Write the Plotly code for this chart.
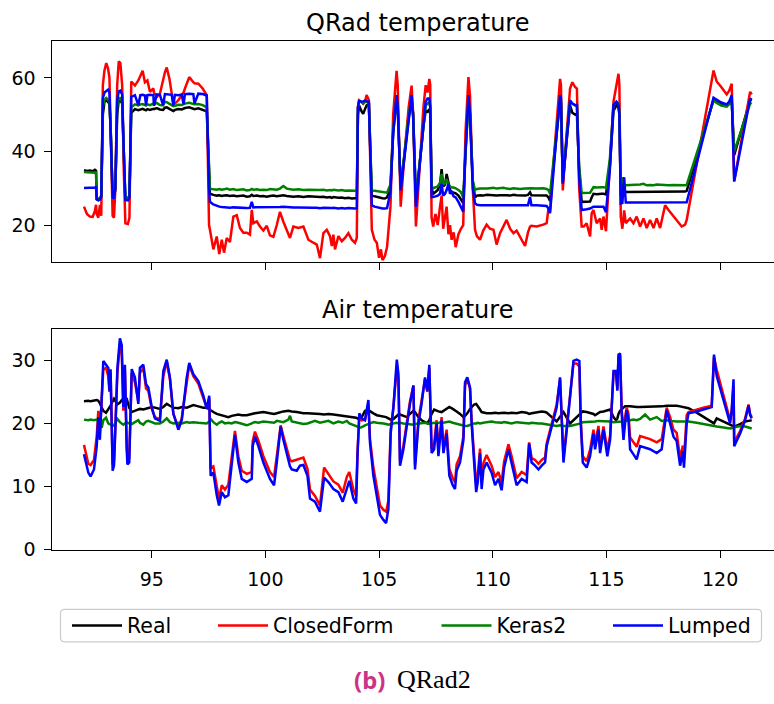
import plotly.graph_objects as go

# ---------------- data: QRad temperature (top panel) ----------------
t_qrad = [92.02, 92.15, 92.28, 92.40, 92.50, 92.55, 92.58, 92.65, 92.72, 92.78,
          92.85, 92.92, 93.00, 93.08, 93.14, 93.20, 93.28, 93.34, 93.40, 93.48,
          93.55, 93.62, 93.70, 93.77, 93.84, 93.95, 94.02, 94.10, 94.26, 94.41,
          94.50, 94.60, 94.70, 94.75, 94.81, 94.92, 95.07, 95.10, 95.22, 95.36,
          95.50, 95.58, 95.66, 95.78, 95.88, 95.95, 96.02, 96.17, 96.32, 96.40,
          96.46, 96.65, 96.83, 96.88, 97.05, 97.24, 97.42, 97.52, 97.56, 97.71,
          97.86, 97.97, 98.08, 98.18, 98.30, 98.44, 98.59, 98.74, 98.88, 99.03,
          99.18, 99.32, 99.40, 99.47, 99.62, 99.76, 99.91, 100.06, 100.20, 100.35,
          100.50, 100.64, 100.79, 100.94, 101.08, 101.23, 101.45, 101.67, 101.89, 102.11,
          102.26, 102.40, 102.55, 102.70, 102.84, 102.92, 102.99, 103.06, 103.21, 103.36,
          103.50, 103.65, 103.80, 103.94, 104.02, 104.07, 104.12, 104.22, 104.30, 104.38,
          104.45, 104.55, 104.62, 104.68, 104.80, 104.90, 105.00, 105.08, 105.15, 105.25,
          105.35, 105.50, 105.62, 105.77, 105.82, 105.95, 106.10, 106.30, 106.43, 106.50,
          106.62, 106.75, 106.95, 107.05, 107.13, 107.21, 107.25, 107.31, 107.38, 107.48,
          107.58, 107.68, 107.75, 107.82, 107.90, 107.97, 108.05, 108.12, 108.19, 108.28,
          108.37, 108.49, 108.60, 108.70, 108.80, 108.93, 109.00, 109.12, 109.22, 109.30,
          109.44, 109.58, 109.73, 109.88, 110.03, 110.17, 110.32, 110.47, 110.61, 110.76,
          110.91, 111.05, 111.20, 111.42, 111.55, 111.64, 111.70, 111.93, 112.22, 112.37,
          112.45, 112.52, 112.75, 112.96, 113.00, 113.08, 113.25, 113.40, 113.50, 113.62,
          113.70, 113.80, 113.91, 114.00, 114.13, 114.28, 114.35, 114.43, 114.57, 114.72,
          114.79, 114.87, 114.98, 115.15, 115.31, 115.44, 115.53, 115.57, 115.63, 115.70,
          115.78, 115.85, 116.04, 116.19, 116.33, 116.48, 116.63, 116.77, 116.92, 117.07,
          117.21, 117.36, 117.58, 117.73, 117.95, 118.17, 118.31, 118.46, 118.53, 119.71,
          119.85, 120.05, 120.29, 120.40, 120.51, 120.62, 121.32, 121.39]

qrad_real = [34.9, 34.7, 34.8, 34.6, 35.0, 34.8, 27.0, 26.8, 27.0, 28.0,
             50.0, 53.5, 54.0, 53.5, 53.0, 45.0, 27.5, 27.2, 30.0, 50.0,
             54.0, 54.0, 53.0, 40.0, 27.0, 27.0, 28.0, 50.5, 51.5, 51.2,
             51.4, 51.6, 51.3, 51.2, 51.5, 51.3, 51.6, 51.5, 51.8, 51.4,
             51.3, 51.9, 52.0, 51.6, 51.2, 51.0, 51.3, 51.5, 51.4, 51.6,
             51.8, 52.0, 51.6, 51.5, 51.7, 51.3, 50.9, 35.0, 28.5, 28.2,
             28.0, 28.1, 27.9, 28.0, 28.1, 27.9, 28.0, 27.8, 27.9, 28.0,
             27.7, 27.8, 28.2, 27.9, 28.0, 27.8, 27.9, 27.7, 27.9, 28.0,
             27.8, 27.9, 28.1, 27.9, 27.8, 27.7, 27.8, 27.6, 27.8, 27.7,
             27.5, 27.6, 27.7, 27.5, 27.6, 27.4, 27.6, 27.5, 27.4, 27.5,
             27.3, 27.4, 27.2, 27.3, 27.3, 50.0, 52.5, 51.0, 50.2, 51.5,
             52.5, 52.8, 40.0, 28.0, 27.8, 27.6, 27.5, 27.4, 27.3, 27.2,
             27.5, 30.0, 45.0, 54.5, 52.0, 30.0, 38.0, 49.0, 54.0, 50.0,
             26.5, 35.0, 47.0, 51.0, 50.8, 51.5, 50.0, 30.0, 28.5, 29.0,
             29.5, 31.0, 35.2, 30.5, 31.0, 33.9, 31.0, 29.5, 29.0, 28.8,
             28.6, 28.0, 27.0, 26.0, 40.0, 53.5, 50.0, 32.0, 27.5, 28.0,
             28.1, 28.0, 28.2, 28.1, 28.2, 28.0, 28.1, 28.2, 28.1, 28.0,
             28.2, 28.1, 28.0, 28.0, 28.2, 28.9, 28.1, 28.1, 28.0, 28.0,
             27.5, 26.5, 41.0, 54.0, 53.0, 31.5, 43.0, 52.5, 50.5, 50.0,
             50.2, 35.0, 26.3, 26.3, 26.2, 26.4, 27.5, 28.5, 28.4, 28.6,
             28.5, 28.5, 28.3, 36.0, 51.0, 52.5, 52.0, 50.0, 28.0, 32.5,
             29.5, 29.0, 29.0, 29.1, 29.0, 29.1, 29.2, 29.0, 29.1, 29.0,
             29.2, 29.1, 29.2, 29.1, 29.2, 29.1, 29.0, 29.1, 29.3, 54.0,
             53.5, 53.0, 52.5, 53.5, 54.0, 39.0, 54.0, 53.8]

qrad_closedform = [25.0, 23.0, 22.3, 22.2, 23.8, 25.5, 23.0, 22.0, 25.5, 22.5,
                   58.0, 62.0, 64.0, 62.5, 60.0, 45.0, 22.5, 22.0, 30.0, 58.0,
                   64.5, 64.0, 58.0, 35.0, 20.5, 20.3, 22.0, 59.0, 57.9, 59.3,
                   60.5, 61.9, 58.8, 59.0, 59.3, 56.2, 57.1, 56.0, 54.8, 55.7,
                   59.7, 61.5, 62.8, 59.7, 55.7, 53.2, 53.0, 53.9, 55.3, 56.0,
                   57.1, 60.2, 58.8, 58.5, 58.4, 57.1, 55.3, 20.0, 18.7, 13.4,
                   16.9, 12.1, 16.0, 12.5, 16.5, 15.4, 22.3, 22.7, 19.2, 17.9,
                   17.9, 17.4, 24.1, 20.5, 21.0, 19.6, 18.5, 19.8, 17.2, 16.8,
                   20.0, 23.6, 20.9, 18.7, 16.5, 19.6, 19.2, 19.6, 16.0, 15.2,
                   14.7, 11.0, 17.8, 18.7, 17.0, 14.3, 17.4, 13.4, 17.0, 15.6,
                   16.5, 17.8, 16.0, 15.2, 16.5, 52.0, 53.9, 53.5, 53.0, 53.5,
                   55.3, 54.0, 30.0, 18.7, 16.0, 15.2, 11.1, 13.4, 10.5, 11.5,
                   14.0, 25.0, 50.0, 61.9, 58.0, 25.0, 38.0, 52.0, 57.9, 50.0,
                   19.6, 33.0, 52.0, 58.0, 56.0, 59.7, 58.0, 22.0, 19.6, 23.0,
                   20.0, 25.0, 28.0, 19.0, 22.0, 25.0, 17.5, 20.0, 16.0, 18.0,
                   14.0, 17.5, 19.0, 20.0, 45.0, 60.2, 55.0, 30.0, 18.7, 17.0,
                   16.0, 18.5, 20.1, 19.0, 18.7, 14.7, 17.8, 19.5, 21.4, 19.0,
                   17.8, 18.5, 16.9, 14.3, 18.0, 19.6, 19.8, 19.6, 20.1, 20.5,
                   24.5, 24.0, 43.0, 59.7, 58.0, 29.4, 45.0, 57.1, 58.8, 57.5,
                   57.1, 30.0, 19.6, 19.6, 20.5, 16.9, 23.2, 24.1, 20.5, 21.8,
                   18.7, 22.3, 18.3, 38.0, 53.5, 58.0, 61.1, 58.0, 22.3, 19.0,
                   24.0, 20.5, 21.8, 20.5, 22.3, 19.6, 21.8, 19.2, 21.4, 19.2,
                   21.8, 19.2, 25.4, 24.1, 22.3, 20.5, 19.6, 20.1, 21.4, 62.0,
                   59.0, 57.5, 55.5, 56.5, 58.4, 32.0, 56.2, 55.5]

qrad_keras2 = [34.4, 34.3, 34.4, 34.3, 34.2, 34.3, 27.5, 27.2, 27.3, 28.0,
               52.0, 54.0, 54.5, 54.0, 53.5, 45.0, 28.0, 27.5, 30.0, 52.0,
               54.5, 54.5, 53.5, 40.0, 27.5, 27.4, 28.0, 52.0, 52.8, 52.5,
               52.8, 52.9, 52.6, 52.5, 52.8, 52.6, 53.0, 52.8, 53.2, 52.6,
               52.5, 53.5, 53.4, 53.0, 52.5, 52.3, 52.4, 52.7, 52.6, 52.8,
               53.0, 53.2, 52.9, 52.8, 52.9, 52.6, 52.0, 34.0, 29.9, 29.7,
               29.6, 29.8, 29.6, 29.7, 29.9, 29.6, 29.8, 29.5, 29.6, 29.7,
               29.4, 29.5, 29.8, 29.6, 29.7, 29.5, 29.6, 29.5, 29.8, 29.7,
               29.6, 29.9, 30.6, 29.9, 29.7, 29.6, 29.7, 29.5, 29.6, 29.5,
               29.4, 29.5, 29.6, 29.4, 29.5, 29.4, 29.6, 29.5, 29.4, 29.5,
               29.3, 29.4, 29.3, 29.3, 29.5, 52.0, 53.8, 53.5, 53.0, 53.6,
               53.5, 53.0, 40.0, 29.4, 29.3, 29.2, 29.0, 29.0, 28.9, 28.8,
               28.8, 31.0, 46.0, 54.5, 52.0, 30.0, 39.0, 50.0, 54.2, 50.0,
               27.0, 35.0, 48.0, 52.5, 53.0, 53.5, 52.0, 30.5, 30.0, 30.3,
               30.5, 31.5, 33.9, 31.0, 31.5, 32.5, 31.0, 30.5, 30.2, 30.2,
               30.0, 29.5, 29.0, 27.5, 40.0, 54.0, 50.0, 32.0, 29.5, 29.8,
               29.9, 30.0, 29.9, 30.0, 30.1, 29.9, 30.0, 30.1, 29.9, 29.8,
               30.0, 29.9, 29.8, 29.9, 30.0, 30.1, 30.0, 29.9, 30.0, 29.8,
               29.5, 28.5, 42.0, 54.5, 53.5, 32.0, 44.0, 53.5, 53.0, 52.5,
               52.6, 36.0, 28.7, 28.7, 28.6, 28.8, 29.5, 30.3, 30.2, 30.4,
               30.3, 30.3, 30.1, 38.0, 52.5, 53.5, 53.0, 51.0, 30.0, 33.0,
               31.0, 30.8, 30.8, 30.9, 30.8, 31.0, 31.2, 30.8, 30.9, 30.8,
               31.0, 30.9, 30.9, 30.8, 30.9, 30.8, 30.7, 30.8, 30.9, 53.8,
               53.2, 52.5, 52.2, 53.0, 53.5, 40.0, 53.0, 53.2]

qrad_lumped = [30.1, 30.1, 30.1, 30.0, 30.2, 30.3, 27.0, 26.7, 26.9, 27.5,
               54.5, 56.0, 56.5, 56.8, 56.0, 44.0, 27.5, 27.2, 30.0, 54.0,
               56.3, 56.5, 55.5, 40.0, 26.8, 26.7, 27.5, 54.8, 55.3, 52.6,
               55.3, 55.4, 55.2, 52.6, 55.3, 55.4, 55.3, 52.4, 55.5, 55.4,
               52.6, 55.6, 55.6, 55.5, 55.4, 52.5, 55.4, 55.3, 55.5, 52.8,
               55.6, 55.7, 55.6, 53.0, 55.7, 55.6, 55.2, 30.0, 26.3, 25.6,
               25.2, 25.0, 24.9, 24.8, 24.8, 24.7, 24.8, 24.7, 24.8, 24.7,
               24.6, 24.7, 26.3, 24.8, 24.8, 24.7, 24.8, 24.7, 24.8, 24.9,
               24.8, 24.9, 25.0, 24.9, 24.8, 24.8, 24.8, 24.7, 24.8, 24.7,
               24.7, 24.6, 24.7, 24.6, 24.7, 24.6, 24.7, 24.6, 24.5, 24.6,
               24.5, 24.6, 24.5, 24.5, 24.6, 52.0, 53.7, 53.5, 53.6, 53.8,
               53.7, 53.5, 38.0, 25.4, 25.0, 24.8, 24.6, 24.5, 24.5, 24.5,
               24.6, 29.0, 45.0, 55.3, 52.0, 29.4, 38.0, 49.5, 55.3, 49.0,
               25.0, 34.0, 48.0, 53.5, 54.4, 54.4, 52.0, 27.6, 27.6, 27.8,
               28.0, 28.5, 31.2, 28.0, 28.5, 29.5, 31.2, 28.5, 29.0, 27.8,
               27.5, 26.3, 25.0, 23.6, 40.0, 55.3, 50.0, 30.0, 25.9, 25.5,
               25.4, 25.4, 25.5, 25.4, 25.4, 25.3, 25.4, 25.4, 25.4, 25.3,
               25.4, 25.4, 25.3, 25.3, 25.4, 27.6, 25.4, 25.4, 25.3, 25.2,
               24.5, 23.2, 40.5, 55.3, 54.5, 31.2, 43.0, 53.9, 53.0, 52.6,
               52.6, 33.0, 24.1, 24.1, 24.3, 24.5, 24.8, 25.0, 25.0, 25.0,
               25.0, 25.0, 23.5, 35.0, 52.6, 53.5, 52.6, 50.0, 25.9, 26.0,
               33.0, 26.1, 26.1, 26.1, 26.0, 26.1, 26.1, 26.0, 26.1, 26.0,
               26.1, 26.1, 26.1, 26.0, 26.1, 26.0, 26.0, 26.0, 26.2, 54.6,
               54.0, 53.3, 52.8, 53.5, 55.3, 31.8, 54.4, 54.0]

# ---------------- data: Air temperature (bottom panel) ----------------
t_air = [92.02, 92.21, 92.31, 92.46, 92.58, 92.65, 92.72, 92.80, 92.87, 92.99,
         93.09, 93.14, 93.19, 93.28, 93.34, 93.41, 93.49, 93.60, 93.68, 93.75,
         93.82, 93.90, 93.93, 94.01, 94.12, 94.26, 94.41, 94.48, 94.63, 94.75,
         94.85, 95.00, 95.14, 95.36, 95.51, 95.66, 95.80, 95.95, 96.17, 96.32,
         96.54, 96.65, 96.83, 97.05, 97.27, 97.42, 97.53, 97.59, 97.71, 97.86,
         97.96, 98.08, 98.22, 98.37, 98.52, 98.66, 98.81, 98.96, 99.18, 99.40,
         99.44, 99.54, 99.69, 99.91, 100.20, 100.38, 100.50, 100.67, 100.79, 101.01,
         101.08, 101.16, 101.38, 101.52, 101.67, 101.85, 101.96, 102.18, 102.40, 102.58,
         102.77, 102.99, 103.21, 103.40, 103.58, 103.69, 103.87, 103.99, 104.05, 104.13,
         104.24, 104.38, 104.53, 104.60, 104.75, 104.90, 105.04, 105.19, 105.31, 105.41,
         105.51, 105.63, 105.78, 105.85, 105.92, 106.07, 106.22, 106.36, 106.51, 106.58,
         106.73, 106.87, 107.02, 107.12, 107.21, 107.31, 107.42, 107.53, 107.61, 107.75,
         107.83, 107.97, 108.09, 108.24, 108.34, 108.41, 108.56, 108.71, 108.78, 108.88,
         109.00, 109.07, 109.18, 109.27, 109.34, 109.44, 109.51, 109.59, 109.73, 109.95,
         110.10, 110.25, 110.39, 110.50, 110.69, 110.83, 111.05, 111.27, 111.49, 111.60,
         111.71, 111.86, 112.01, 112.15, 112.30, 112.37, 112.81, 112.96, 113.11, 113.40,
         113.55, 113.69, 113.81, 113.87, 113.96, 114.13, 114.28, 114.43, 114.50, 114.65,
         114.72, 114.87, 115.04, 115.16, 115.31, 115.42, 115.48, 115.53, 115.60, 115.67,
         115.75, 115.82, 115.89, 115.97, 116.04, 116.19, 116.33, 116.48, 116.70, 116.92,
         117.21, 117.43, 117.65, 117.80, 117.95, 118.09, 118.24, 118.36, 118.41, 118.53,
         118.61, 118.97, 119.26, 119.63, 119.73, 119.85, 120.44, 120.51, 120.59, 120.62,
         120.88, 121.10, 121.25, 121.32, 121.39]

air_real = [23.5, 23.6, 23.5, 23.6, 23.7, 23.6, 23.2, 22.5, 22.0, 21.7,
            22.2, 22.5, 22.8, 23.5, 23.9, 23.5, 23.0, 23.3, 23.6, 24.0,
            24.0, 23.9, 23.5, 22.5, 21.8, 22.0, 22.3, 22.3, 22.2, 22.3,
            22.4, 22.6, 22.5, 22.3, 22.6, 23.1, 22.8, 22.5, 22.4, 22.6,
            22.5, 22.7, 22.9, 22.7, 22.5, 22.5, 22.2, 22.0, 21.8, 21.5,
            21.4, 21.2, 21.1, 21.0, 21.2, 21.3, 21.4, 21.3, 21.3, 21.5,
            21.5, 21.6, 21.7, 21.8, 21.6, 21.5, 21.6, 21.8, 21.9, 22.0,
            22.0, 21.9, 21.8, 21.7, 21.6, 21.6, 21.6, 21.6, 21.5, 21.4,
            21.5, 21.4, 21.3, 21.2, 21.2, 21.1, 21.0, 20.9, 20.8, 20.6,
            21.0, 22.0, 22.1, 21.9, 21.6, 21.3, 21.2, 21.1, 21.0, 20.8,
            20.6, 20.7, 21.2, 21.4, 21.4, 21.2, 21.0, 21.5, 22.0, 21.8,
            21.0, 20.5, 20.2, 20.0, 20.5, 21.5, 22.2, 22.0, 21.9, 21.8,
            22.0, 22.4, 22.6, 22.3, 22.0, 21.9, 21.5, 21.0, 21.2, 21.6,
            22.3, 22.6, 23.0, 23.1, 22.8, 22.2, 21.8, 21.7, 21.6, 21.6,
            21.7, 21.6, 21.7, 21.7, 21.6, 21.7, 21.6, 21.8, 21.7, 21.5,
            21.6, 21.7, 21.9, 21.9, 21.8, 21.7, 20.3, 21.0, 21.8, 20.0,
            20.5, 21.0, 21.5, 21.7, 21.9, 21.8, 21.7, 21.5, 21.3, 21.6,
            21.8, 21.9, 22.1, 22.2, 21.0, 20.5, 20.8, 21.5, 22.0, 22.3,
            22.5, 22.7, 22.75, 22.7, 22.7, 22.6, 22.6, 22.6, 22.6, 22.6,
            22.6, 22.7, 22.8, 22.8, 22.9, 22.8, 22.7, 22.6, 22.6, 22.5,
            22.4, 21.7, 21.0, 20.2, 20.0, 20.8, 19.8, 19.7, 19.5, 19.5,
            19.9, 20.3, 20.4, 20.5, 20.5]

air_closedform = [16.6, 13.6, 13.4, 14.2, 18.0, 22.0, 18.5, 24.5, 28.5, 28.8,
                  27.5, 25.0, 28.0, 13.5, 14.0, 20.5, 28.0, 32.5, 31.5, 22.0,
                  28.5, 16.5, 14.5, 14.5, 28.0, 26.5, 23.5, 28.0, 28.8, 25.5,
                  25.2, 22.3, 21.0, 20.6, 27.5, 29.8, 27.0, 21.5, 19.3, 20.8,
                  27.0, 29.3, 27.5, 26.3, 24.0, 22.5, 24.0, 13.0, 13.2, 9.8,
                  8.0, 10.2, 9.5, 10.3, 14.3, 18.8, 14.8, 12.5, 12.0, 12.3,
                  17.2, 18.7, 17.3, 14.8, 12.3, 11.5, 14.8, 19.7, 18.0, 15.0,
                  14.2, 14.0, 14.3, 14.4, 14.6, 12.8, 9.5, 8.5, 7.0, 13.0,
                  12.0, 10.8, 10.3, 9.0, 11.5, 12.3, 9.5, 8.5, 15.5, 21.0,
                  20.5, 20.6, 23.0, 17.5, 13.0, 9.5, 7.0, 6.3, 6.0, 7.8,
                  19.0, 22.5, 29.0, 27.0, 14.0, 16.5, 20.5, 23.5, 26.0, 13.5,
                  20.5, 23.5, 27.0, 25.0, 28.8, 16.0, 16.8, 20.5, 15.8, 21.0,
                  16.0, 19.0, 12.8, 11.3, 10.7, 13.5, 14.8, 18.0, 26.0, 27.0,
                  25.5, 20.5, 14.8, 10.2, 11.7, 16.0, 10.7, 13.7, 15.0, 13.3,
                  11.5, 12.3, 10.6, 14.0, 16.7, 14.8, 11.3, 12.3, 11.8, 17.0,
                  14.5, 14.2, 13.6, 14.2, 14.6, 16.8, 23.0, 27.0, 14.5, 24.0,
                  29.5, 29.5, 29.0, 20.5, 14.8, 14.0, 15.8, 19.0, 16.8, 19.6,
                  16.2, 19.5, 15.8, 18.0, 27.8, 28.0, 25.5, 30.5, 30.7, 22.3,
                  18.5, 21.0, 22.5, 21.5, 17.8, 17.0, 16.3, 18.0, 17.8, 17.5,
                  17.0, 17.5, 22.5, 21.0, 19.0, 18.5, 14.5, 16.5, 14.3, 21.3,
                  21.8, 22.2, 22.5, 22.8, 30.5, 28.5, 20.5, 22.0, 26.0, 17.0,
                  18.8, 20.8, 23.0, 21.5, 21.0]

air_keras2 = [20.6, 20.5, 20.6, 20.5, 20.6, 20.5, 20.3, 19.3, 20.5, 20.9,
              20.0, 19.9, 19.8, 19.6, 19.7, 20.2, 20.7, 20.2, 19.9, 19.8,
              20.0, 20.2, 20.1, 20.0, 19.9, 20.2, 20.5, 20.1, 19.8, 20.3,
              20.4, 20.2, 20.0, 20.0, 20.3, 20.8, 20.2, 20.0, 20.1, 20.0,
              20.2, 20.1, 20.2, 20.1, 20.0, 20.0, 20.3, 20.7, 20.2, 19.8,
              20.1, 20.3, 20.0, 20.1, 20.0, 20.2, 20.1, 19.9, 19.7, 20.0,
              20.1, 20.2, 20.1, 20.3, 20.2, 20.1, 20.4, 20.3, 20.2, 20.6,
              21.2, 20.3, 20.1, 20.0, 19.9, 20.0, 20.1, 20.4, 20.1, 20.2,
              20.4, 20.0, 20.3, 20.1, 20.4, 20.0, 19.8, 19.6, 19.5, 19.3,
              19.4, 19.7, 19.9, 20.0, 20.2, 20.1, 20.1, 20.0, 19.9, 19.8,
              19.9, 20.0, 20.1, 20.0, 20.1, 20.0, 19.9, 19.8, 19.8, 19.9,
              20.0, 20.1, 20.1, 20.0, 19.9, 20.0, 20.1, 20.0, 20.1, 20.2,
              20.1, 20.2, 20.3, 20.1, 20.0, 20.0, 19.9, 19.7, 19.6, 19.6,
              19.8, 19.9, 20.0, 20.0, 20.1, 20.0, 20.0, 20.1, 20.2, 20.3,
              20.2, 20.1, 20.1, 20.2, 20.1, 20.0, 20.2, 20.1, 20.0, 20.0,
              20.1, 20.0, 20.0, 20.0, 19.9, 19.9, 19.6, 19.7, 19.6, 19.6,
              19.7, 19.8, 19.9, 20.0, 20.2, 20.2, 20.3, 20.3, 20.3, 20.4,
              20.4, 20.4, 20.3, 20.3, 20.2, 20.2, 20.2, 20.2, 20.2, 20.3,
              20.4, 20.4, 20.5, 20.5, 20.5, 20.6, 20.5, 20.7, 21.4, 20.6,
              21.0, 20.4, 20.5, 20.4, 20.3, 20.3, 20.3, 20.3, 20.3, 20.3,
              20.3, 20.1, 19.9, 19.6, 19.6, 19.5, 19.2, 19.2, 19.3, 19.4,
              19.6, 19.5, 19.3, 19.2, 19.2]

air_lumped = [15.1, 12.2, 11.6, 12.7, 16.4, 21.0, 17.4, 25.2, 29.9, 29.3,
              28.8, 25.2, 28.6, 12.5, 13.3, 20.0, 28.8, 33.5, 32.4, 22.6,
              29.3, 15.9, 13.5, 13.8, 28.6, 27.3, 23.1, 28.8, 29.3, 26.2,
              25.7, 22.6, 20.8, 20.4, 28.3, 30.1, 27.3, 21.6, 19.0, 20.5,
              27.3, 29.6, 27.8, 26.7, 24.4, 22.3, 24.4, 11.7, 12.2, 8.6,
              7.0, 9.1, 8.3, 8.6, 13.3, 18.2, 13.8, 11.2, 10.7, 11.2,
              16.4, 17.9, 16.4, 13.8, 11.2, 10.2, 13.8, 19.5, 17.4, 13.8,
              13.2, 12.7, 12.5, 13.3, 13.4, 11.7, 8.1, 7.6, 6.0, 11.4,
              10.7, 9.6, 9.1, 7.6, 9.9, 10.9, 8.1, 7.3, 14.8, 21.6,
              20.8, 20.5, 23.7, 16.9, 11.7, 8.1, 5.5, 4.7, 4.2, 6.5,
              18.4, 22.6, 30.1, 27.8, 13.3, 15.9, 20.0, 23.1, 26.0, 12.7,
              20.0, 23.1, 27.3, 25.2, 29.3, 15.3, 15.9, 20.0, 14.8, 20.5,
              15.3, 18.4, 11.7, 10.2, 9.6, 12.5, 13.8, 17.4, 26.5, 27.3,
              25.7, 20.0, 13.8, 9.1, 10.7, 15.3, 9.6, 12.7, 13.8, 12.2,
              10.2, 11.2, 9.4, 13.0, 15.9, 13.8, 10.2, 11.2, 10.7, 16.8,
              13.8, 13.3, 12.7, 13.3, 13.8, 16.4, 22.5, 27.3, 13.8, 24.2,
              29.9, 30.1, 29.9, 20.0, 13.8, 13.0, 14.8, 18.4, 15.9, 19.0,
              15.3, 19.0, 14.8, 17.4, 28.3, 28.3, 25.2, 30.9, 31.1, 21.6,
              17.4, 20.0, 22.1, 20.5, 15.9, 15.1, 14.3, 16.4, 16.1, 15.9,
              15.3, 15.9, 22.1, 20.0, 17.9, 17.2, 13.3, 15.6, 13.0, 20.0,
              21.6, 21.9, 22.2, 22.6, 30.9, 27.5, 20.0, 22.1, 27.0, 16.4,
              18.4, 20.5, 22.85, 21.3, 20.8]

series_names = ["Real", "ClosedForm", "Keras2", "Lumped"]
series_colors = ["#000000", "#ff0000", "#008000", "#0000ff"]
qrad_values = [qrad_real, qrad_closedform, qrad_keras2, qrad_lumped]
air_values = [air_real, air_closedform, air_keras2, air_lumped]

x_ticks = [95, 100, 105, 110, 115, 120]
qrad_ticks = [20, 40, 60]
air_ticks = [0, 10, 20, 30]

for arr in qrad_values:
    assert len(arr) == len(t_qrad), len(arr)
for arr in air_values:
    assert len(arr) == len(t_air), len(arr)

# ---------------- figure ----------------
W, H = 774, 704
FONT = "DejaVu Sans"
fig = go.Figure()

legend_keys = ["legend", "legend2", "legend3", "legend4"]
for i, (name, col) in enumerate(zip(series_names, series_colors)):
    fig.add_trace(go.Scatter(x=t_qrad, y=qrad_values[i], mode="lines", name=name,
                             line=dict(color=col, width=2.5), xaxis="x", yaxis="y",
                             legend=legend_keys[i], showlegend=True, hoverinfo="skip"))
for i, (name, col) in enumerate(zip(series_names, series_colors)):
    fig.add_trace(go.Scatter(x=t_air, y=air_values[i], mode="lines", name=name,
                             line=dict(color=col, width=2.5), xaxis="x2", yaxis="y2",
                             showlegend=False, hoverinfo="skip"))

def px_x(p):
    return p / W

def px_y(p):
    return 1 - p / H

x_dom = [px_x(51.7), 1.0]
top_dom = [px_y(266.0), px_y(41.7)]
bot_dom = [px_y(558.3), px_y(334.0)]
x_rng = [90.6, 122.37]

axis_common = dict(showgrid=False, zeroline=False, showline=True, linecolor="black",
                   linewidth=1.4, ticks="outside", ticklen=7, tickwidth=1.4,
                   tickcolor="black", tickfont=dict(family=FONT, size=19, color="black"))

fig.update_layout(
    width=W, height=H, margin=dict(l=0, r=0, t=0, b=0),
    paper_bgcolor="white", plot_bgcolor="white",
    xaxis=dict(domain=x_dom, range=x_rng, anchor="y", tickvals=x_ticks,
               showticklabels=False, mirror=True, **axis_common),
    yaxis=dict(domain=top_dom, range=[10, 70], anchor="x", tickvals=qrad_ticks,
               ticklabelstandoff=4, **axis_common),
    xaxis2=dict(domain=x_dom, range=x_rng, anchor="y2", tickvals=x_ticks,
                mirror=True, ticklabelstandoff=5, **axis_common),
    yaxis2=dict(domain=bot_dom, range=[0, 35], anchor="x2", tickvals=air_ticks,
                ticklabelstandoff=4, **axis_common),
)

# legends: one entry each, laid out like the reference row
legend_x_px = [67, 213, 436.5, 608]
for key, xp in zip(legend_keys, legend_x_px):
    fig.update_layout({key: dict(x=px_x(xp), xanchor="left", y=px_y(635.5), yanchor="middle",
                                 orientation="h", bgcolor="rgba(0,0,0,0)", borderwidth=0,
                                 itemwidth=50, itemclick=False, itemdoubleclick=False,
                                 font=dict(family=FONT, size=20.5, color="black"))})

# legend frame (rounded rectangle)
lx0, lx1, ly0, ly1, r = 60.5, 761.5, 619.0, 652.0, 4.0
def P(xp, yp):
    return f"{px_x(xp):.5f},{px_y(yp):.5f}"
path = (f"M {P(lx0 + r, ly0)} L {P(lx1 - r, ly0)} Q {P(lx1, ly0)} {P(lx1, ly0 + r)} "
        f"L {P(lx1, ly1 - r)} Q {P(lx1, ly1)} {P(lx1 - r, ly1)} L {P(lx0 + r, ly1)} "
        f"Q {P(lx0, ly1)} {P(lx0, ly1 - r)} L {P(lx0, ly0 + r)} Q {P(lx0, ly0)} {P(lx0 + r, ly0)} Z")
fig.add_shape(type="path", path=path, xref="paper", yref="paper",
              line=dict(color="#cccccc", width=1.2), fillcolor="rgba(255,255,255,0.8)", layer="below")

# subplot titles
fig.add_annotation(text="QRad temperature", x=px_x(417.4), y=px_y(23), xref="paper", yref="paper",
                   showarrow=False, xanchor="center", yanchor="middle",
                   font=dict(family=FONT, size=24, color="black"))
fig.add_annotation(text="Air temperature", x=px_x(417.4), y=px_y(315), xref="paper", yref="paper",
                   showarrow=False, xanchor="center", yanchor="middle",
                   font=dict(family=FONT, size=24, color="black"))

# caption
fig.add_annotation(text="<b>(b)</b>", x=px_x(387), y=px_y(690), xref="paper", yref="paper",
                   showarrow=False, xanchor="right", yanchor="middle",
                   font=dict(family="Noto Sans", size=24, color="#cc3388"))
fig.add_annotation(text="QRad2", x=px_x(395), y=px_y(690), xref="paper", yref="paper",
                   showarrow=False, xanchor="left", yanchor="middle",
                   font=dict(family="Liberation Serif", size=26, color="black"))

fig.write_html("out.html", config={"displayModeBar": False},
               post_script="document.body.style.margin='0px';document.body.style.overflow='hidden';")
